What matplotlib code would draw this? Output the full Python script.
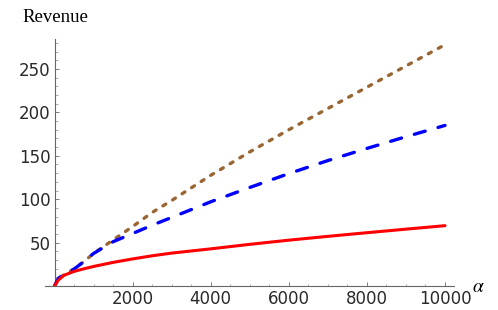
import matplotlib
matplotlib.use("Agg")
import matplotlib.pyplot as plt
from matplotlib.ticker import MultipleLocator

# Data
alpha = [0, 100, 250, 500, 750, 1000, 1500, 2000, 2500, 3000, 4000, 5000, 6000, 7000, 8000, 9000, 10000]
rev_red = [0, 7, 12.5, 16.8, 19.8, 22.5, 27.2, 31.2, 34.8, 37.9, 42.8, 48, 52.8, 57.2, 61.4, 65.5, 69.5]
rev_blue = [0, 9, 13, 19.5, 28, 37.5, 51, 60.5, 70, 79, 97, 113.5, 129.5, 144.5, 158.5, 172, 185]
rev_brown = [0, 9, 13, 19.5, 28, 37.5, 53, 68.5, 84.7, 98.5, 127.5, 154.5, 180, 204.5, 229, 253.5, 278]

x_ticks = [2000, 4000, 6000, 8000, 10000]
y_ticks = [50, 100, 150, 200, 250]

W, H = 498, 310
fig = plt.figure(figsize=(W / 100, H / 100), dpi=100)
left_px, right_px, top_px, bot_px = 45, 454, 39, 286
ax = fig.add_axes([left_px / W, (H - bot_px) / H, (right_px - left_px) / W, (bot_px - top_px) / H])

x0_px, x10k_px = 54.5, 445.0
sx = (x10k_px - x0_px) / 10000
ax.set_xlim(-(x0_px - left_px) / sx, (right_px - x0_px) / sx)
sy = 43.4 / 50
ax.set_ylim(0, (bot_px - top_px) / sy)

lw = 2.4
ax.plot(alpha, rev_brown, color=(0.6, 0.4, 0.2), lw=lw, linestyle=(0, (1.0, 2.4)),
        dash_capstyle='round', solid_capstyle='round', zorder=3)
ax.plot(alpha, rev_blue, color=(0, 0, 1), lw=lw, linestyle=(0, (3.4, 4.0)),
        dash_capstyle='round', solid_capstyle='round', zorder=4)
ax.plot(alpha, rev_red, color=(1, 0, 0), lw=2.2, solid_capstyle='round', zorder=5)

for s in ['top', 'right']:
    ax.spines[s].set_visible(False)
ax.spines['left'].set_position(('data', 0))
ax.spines['bottom'].set_position(('data', 0))
for s in ['left', 'bottom']:
    ax.spines[s].set_color('#666666')
    ax.spines[s].set_linewidth(0.8)

ax.set_xticks(x_ticks)
ax.set_xticklabels([str(v) for v in x_ticks])
ax.set_yticks(y_ticks)
ax.set_yticklabels([str(v) for v in y_ticks])
ax.xaxis.set_minor_locator(MultipleLocator(500))
ax.yaxis.set_minor_locator(MultipleLocator(10))
ax.tick_params(which='major', direction='in', length=3.0, width=0.6, color='#666666',
               labelsize=12, labelcolor='#2a2a2a', pad=3)
ax.tick_params(which='minor', direction='in', length=1.8, width=0.5, color='#888888')
for lab in ax.get_xticklabels() + ax.get_yticklabels():
    lab.set_family('DejaVu Sans')

fig.text(55 / W, 1 - 22 / H, 'Revenue', family='Liberation Serif', fontsize=13.5,
         ha='center', va='baseline', color='black')
fig.text(478 / W, 1 - 287 / H, r'$\alpha$', fontsize=14, ha='center', va='center',
         color='black', math_fontfamily='stix')

fig.savefig('out.png', dpi=100)
